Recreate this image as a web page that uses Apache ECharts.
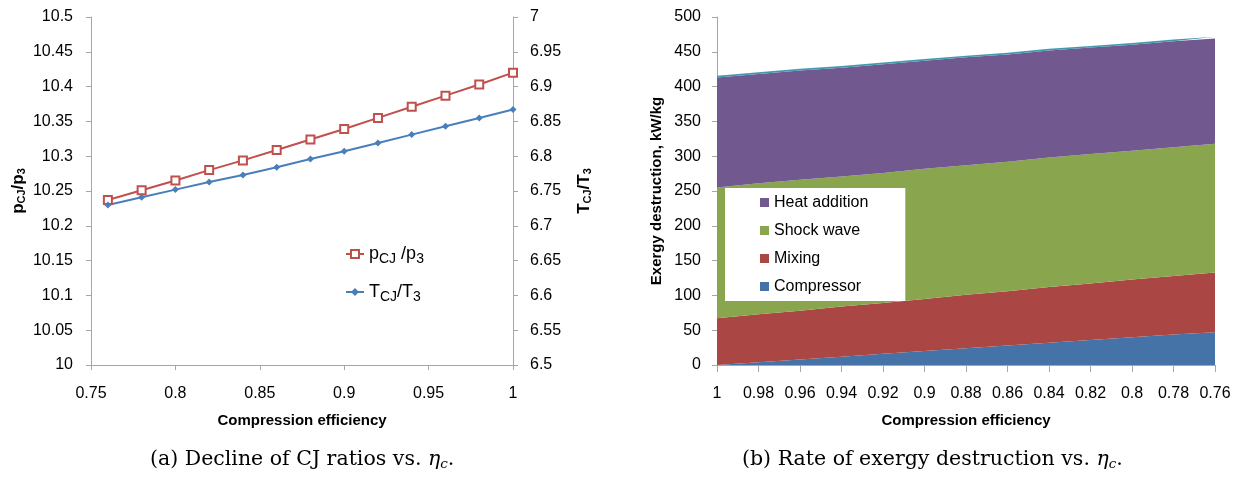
<!DOCTYPE html>
<html>
<head>
<meta charset="utf-8">
<script src="https://cdn.jsdelivr.net/npm/echarts@6/dist/echarts.min.js"></script>
<style>
html, body { margin: 0; padding: 0; background: #fff; }
#chart { width: 1240px; height: 485px; }
</style>
</head>
<body>
<div id="chart"></div>
<script>
// (a) CJ ratios vs compression efficiency
var effA = [0.76, 0.78, 0.80, 0.82, 0.84, 0.86, 0.88, 0.90, 0.92, 0.94, 0.96, 0.98, 1.00];
var pRatio = [10.237, 10.251, 10.265, 10.280, 10.294, 10.309, 10.324, 10.339, 10.355, 10.371, 10.387, 10.403, 10.420];
var tRatio = [6.730, 6.741, 6.752, 6.763, 6.773, 6.784, 6.796, 6.807, 6.819, 6.831, 6.843, 6.855, 6.867];

// (b) exergy destruction, stacked (kW/kg)
var effB = ['1', '0.98', '0.96', '0.94', '0.92', '0.9', '0.88', '0.86', '0.84', '0.82', '0.8', '0.78', '0.76'];
var compressor = [0, 4, 8, 12, 16, 20, 24, 28, 32, 36, 40, 44, 47];
var mixing = [67, 69, 70, 72, 73, 75, 77, 78, 80, 81, 83, 84, 86];
var shockWave = [188, 188, 188, 187, 187, 187, 186, 186, 186, 186, 185, 185, 185];
var heatAddition = [158, 157, 157, 156, 156, 155, 155, 154, 154, 153, 152, 152, 151];
var topLayer = [2.5, 2.5, 2.5, 2.5, 2.5, 2.5, 2.5, 2.5, 2.5, 2.5, 2.5, 2.5, 2.5];

var FONT = 'Liberation Sans';
var axisGray = '#A6A6A6';

function pairs(xs, ys) {
	var out = [];
	for (var i = 0; i < xs.length; i++) out.push([xs[i], ys[i]]);
	return out;
}

var subRich = {
	n: { fontSize: 17, fontWeight: 'bold', fontFamily: FONT, color: '#000' },
	s: { fontSize: 11, fontWeight: 'bold', fontFamily: FONT, color: '#000', padding: [7, 0, 0, 0] }
};
var legRich = {
	n: { fontSize: 18, fontFamily: FONT, color: '#000' },
	s: { fontSize: 14, fontFamily: FONT, color: '#000', padding: [10, 0, 0, 0] }
};
var capRich = {
	t: { fontSize: 20.5, fontFamily: 'DejaVu Serif', color: '#000' },
	i: { fontSize: 20.5, fontFamily: 'DejaVu Serif', fontStyle: 'italic', color: '#000' },
	c: { fontSize: 13.5, fontFamily: 'DejaVu Serif', fontStyle: 'italic', color: '#000', padding: [9, 0, 0, 0] }
};

var labelStyle = { color: '#000', fontSize: 16, fontFamily: FONT };
var lineStyleAxis = { show: true, lineStyle: { color: axisGray, width: 1 } };
var tickStyle = { show: true, length: 5, lineStyle: { color: axisGray } };
var nameStyle = { color: '#000', fontSize: 15, fontWeight: 'bold', fontFamily: FONT };

var option = {
	animation: false,
	backgroundColor: '#fff',
	grid: [
		{ left: 91, top: 17, width: 422, height: 348 },
		{ left: 717, top: 17, width: 498, height: 348 }
	],
	xAxis: [ {
		gridIndex: 0,
		type: 'value',
		min: 0.75, max: 1, interval: 0.05,
		axisLine: lineStyleAxis,
		axisTick: tickStyle,
		axisLabel: Object.assign({ margin: 21 }, labelStyle),
		splitLine: { show: false },
		name: 'Compression efficiency',
		nameLocation: 'middle',
		nameGap: 48,
		nameTextStyle: nameStyle
	}, {
		gridIndex: 1,
		type: 'category',
		boundaryGap: false,
		data: effB,
		axisLine: lineStyleAxis,
		axisTick: { show: true, length: 7, interval: 0, lineStyle: { color: axisGray } },
		axisLabel: Object.assign({ margin: 21, interval: 0 }, labelStyle),
		splitLine: { show: false },
		name: 'Compression efficiency',
		nameLocation: 'middle',
		nameGap: 48,
		nameTextStyle: nameStyle
	} ],
	yAxis: [ {
		gridIndex: 0,
		type: 'value',
		position: 'left',
		min: 10, max: 10.5, interval: 0.05,
		axisLine: lineStyleAxis,
		axisTick: tickStyle,
		axisLabel: Object.assign({ margin: 18 }, labelStyle),
		splitLine: { show: false },
		name: '{n|p}{s|CJ}{n|/p}{s|3}',
		nameLocation: 'middle',
		nameRotate: 90,
		nameGap: 64,
		nameTextStyle: { rich: subRich }
	}, {
		gridIndex: 0,
		type: 'value',
		position: 'right',
		min: 6.5, max: 7, interval: 0.05,
		axisLine: lineStyleAxis,
		axisTick: tickStyle,
		axisLabel: Object.assign({ margin: 17 }, labelStyle),
		splitLine: { show: false },
		name: '{n|T}{s|CJ}{n|/T}{s|3}',
		nameLocation: 'middle',
		nameRotate: 90,
		nameGap: 62,
		nameTextStyle: { rich: subRich }
	}, {
		gridIndex: 1,
		type: 'value',
		min: 0, max: 500, interval: 50,
		axisLine: lineStyleAxis,
		axisTick: tickStyle,
		axisLabel: Object.assign({ margin: 16 }, labelStyle),
		splitLine: { show: false },
		name: 'Exergy destruction, kW/kg',
		nameLocation: 'middle',
		nameGap: 53,
		nameTextStyle: nameStyle
	} ],
	legend: [ {
		data: ['pCJ/p3', 'TCJ/T3'],
		orient: 'vertical',
		left: 340, top: 240,
		itemWidth: 18, itemHeight: 10,
		itemGap: 17,
		formatter: function(name) {
			return name === 'pCJ/p3' ? '{n|p}{s|CJ}{n| /p}{s|3}' : '{n|T}{s|CJ}{n|/T}{s|3}';
		},
		textStyle: { rich: legRich }
	}, {
		data: ['Heat addition', 'Shock wave', 'Mixing', 'Compressor'],
		orient: 'vertical',
		left: 725, top: 188,
		backgroundColor: '#fff',
		padding: [6, 37, 6, 35],
		icon: 'rect',
		itemWidth: 9, itemHeight: 9,
		itemGap: 11,
		textStyle: { color: '#000', fontSize: 16, fontFamily: FONT, lineHeight: 17 }
	} ],
	graphic: [ {
		type: 'text',
		left: 150, top: 449,
		style: { text: '{t|(a) Decline of CJ ratios vs. }{i|η}{c|c}{t|.}', rich: capRich }
	}, {
		type: 'text',
		left: 742, top: 449,
		style: { text: '{t|(b) Rate of exergy destruction vs. }{i|η}{c|c}{t|.}', rich: capRich }
	} ],
	series: [ {
		name: 'pCJ/p3',
		type: 'line',
		xAxisIndex: 0, yAxisIndex: 0,
		data: pairs(effA, pRatio),
		symbol: 'emptyRect', symbolSize: 8,
		itemStyle: { color: '#C0504D', borderWidth: 1 },
		lineStyle: { color: '#C0504D', width: 2 }
	}, {
		name: 'TCJ/T3',
		type: 'line',
		xAxisIndex: 0, yAxisIndex: 1,
		data: pairs(effA, tRatio),
		symbol: 'diamond', symbolSize: 7,
		itemStyle: { color: '#4A7EBB' },
		lineStyle: { color: '#4A7EBB', width: 2 }
	}, {
		name: 'Compressor',
		type: 'line', stack: 'ex',
		xAxisIndex: 1, yAxisIndex: 2,
		data: compressor,
		symbol: 'none',
		lineStyle: { width: 0 },
		itemStyle: { color: '#4572A7' },
		areaStyle: { color: '#4572A7', opacity: 1 }
	}, {
		name: 'Mixing',
		type: 'line', stack: 'ex',
		xAxisIndex: 1, yAxisIndex: 2,
		data: mixing,
		symbol: 'none',
		lineStyle: { width: 0 },
		itemStyle: { color: '#AA4643' },
		areaStyle: { color: '#AA4643', opacity: 1 }
	}, {
		name: 'Shock wave',
		type: 'line', stack: 'ex',
		xAxisIndex: 1, yAxisIndex: 2,
		data: shockWave,
		symbol: 'none',
		lineStyle: { width: 0 },
		itemStyle: { color: '#89A54E' },
		areaStyle: { color: '#89A54E', opacity: 1 }
	}, {
		name: 'Heat addition',
		type: 'line', stack: 'ex',
		xAxisIndex: 1, yAxisIndex: 2,
		data: heatAddition,
		symbol: 'none',
		lineStyle: { width: 0 },
		itemStyle: { color: '#71588F' },
		areaStyle: { color: '#71588F', opacity: 1 }
	}, {
		name: 'Other',
		type: 'line', stack: 'ex',
		xAxisIndex: 1, yAxisIndex: 2,
		data: topLayer,
		symbol: 'none',
		lineStyle: { width: 0 },
		itemStyle: { color: '#4198AF' },
		areaStyle: { color: '#4198AF', opacity: 1 }
	} ]
};

var myChart = echarts.init(document.getElementById('chart'));
myChart.setOption(option);
</script>
</body>
</html>
